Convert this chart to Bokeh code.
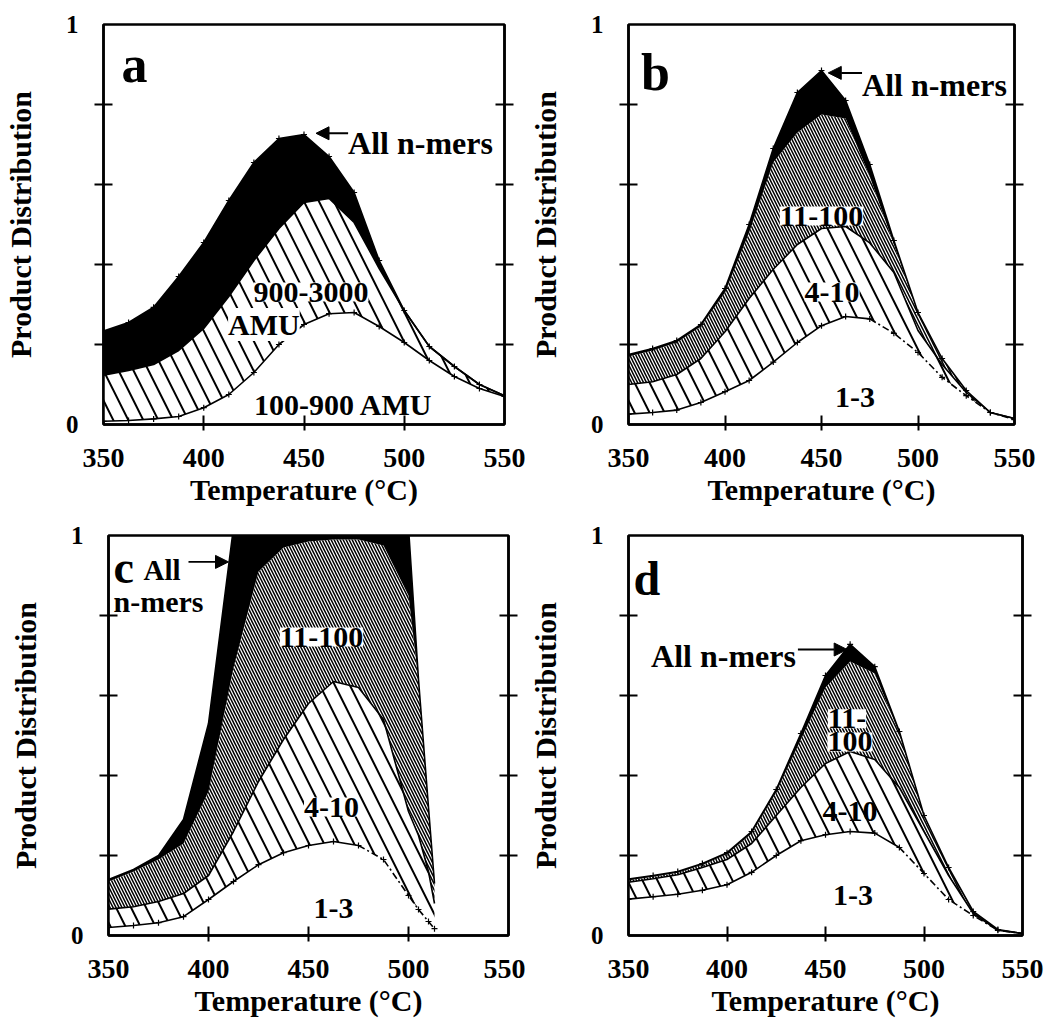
from bokeh.plotting import figure
from bokeh.layouts import column, row
from bokeh.models import FixedTicker, LinearAxis, Label, Arrow, NormalHead, Range1d
from bokeh.embed import file_html
from bokeh.resources import INLINE

# ---------------- data ----------------
temps = [350, 362.5, 375, 387.5, 400, 412.5, 425, 437.5, 450, 462.5, 475, 487.5, 500, 512.5, 525, 537.5, 550]

# panel a
a_all = [0.234, 0.255, 0.293, 0.37, 0.455, 0.56, 0.655, 0.715, 0.725, 0.67, 0.58, 0.41, 0.285, 0.195, 0.145, 0.10, 0.072]
a_900_3000 = [0.123, 0.135, 0.15, 0.185, 0.24, 0.32, 0.41, 0.49, 0.555, 0.565, 0.505, 0.39, 0.285, 0.195, 0.145, 0.10, 0.072]
a_100_900 = [0.008, 0.01, 0.014, 0.02, 0.042, 0.075, 0.13, 0.2, 0.25, 0.277, 0.28, 0.245, 0.205, 0.16, 0.12, 0.09, 0.07]

# panel b
b_all = [0.175, 0.19, 0.21, 0.25, 0.34, 0.5, 0.69, 0.83, 0.885, 0.81, 0.65, 0.46, 0.28, 0.165, 0.085, 0.03, 0.015]
b_11_100 = [0.17, 0.185, 0.205, 0.245, 0.33, 0.48, 0.655, 0.73, 0.775, 0.765, 0.62, 0.45, 0.28, 0.165, 0.085, 0.03, 0.015]
b_4_10 = [0.1, 0.107, 0.125, 0.165, 0.232, 0.315, 0.388, 0.45, 0.49, 0.495, 0.454, 0.38, 0.235, 0.15, 0.08, 0.03, 0.015]
b_1_3 = [0.026, 0.03, 0.036, 0.055, 0.082, 0.11, 0.156, 0.205, 0.247, 0.27, 0.264, 0.228, 0.18, 0.118, 0.072, 0.03, 0.012]

# panel c
temps_c = [350, 362.5, 375, 387.5, 400, 412.5, 425, 437.5, 450, 462.5, 475, 487.5, 500, 505, 510, 513]
c_all = [0.14, 0.165, 0.2, 0.29, 0.53, 1.02, 1.15, 1.25, 1.3, 1.3, 1.25, 1.15, 1.02, 0.64, 0.32, 0.13]
c_11_100 = [0.135, 0.16, 0.19, 0.23, 0.36, 0.67, 0.91, 0.97, 0.985, 0.99, 0.99, 0.975, 0.85, 0.64, 0.32, 0.13]
c_4_10 = [0.066, 0.072, 0.085, 0.105, 0.15, 0.26, 0.385, 0.49, 0.58, 0.635, 0.62, 0.54, 0.31, 0.25, 0.16, 0.08]
c_1_3 = [0.02, 0.025, 0.032, 0.047, 0.09, 0.135, 0.177, 0.207, 0.225, 0.235, 0.225, 0.19, 0.1, 0.065, 0.035, 0.017]

# panel d
d_all = [0.141, 0.15, 0.16, 0.18, 0.207, 0.26, 0.365, 0.505, 0.65, 0.728, 0.672, 0.51, 0.3, 0.17, 0.06, 0.015, 0.005]
d_11_100 = [0.138, 0.147, 0.157, 0.177, 0.203, 0.255, 0.358, 0.49, 0.62, 0.685, 0.655, 0.505, 0.3, 0.17, 0.06, 0.015, 0.005]
d_4_10 = [0.133, 0.142, 0.152, 0.17, 0.19, 0.23, 0.3, 0.37, 0.43, 0.46, 0.44, 0.37, 0.26, 0.15, 0.055, 0.013, 0.005]
d_1_3 = [0.091, 0.097, 0.103, 0.113, 0.127, 0.158, 0.2, 0.237, 0.252, 0.26, 0.256, 0.22, 0.155, 0.09, 0.05, 0.013, 0.005]

x_tick_labels = [350, 400, 450, 500, 550]
y_tick_labels = [0, 1]
y_minor = [0.2, 0.4, 0.6, 0.8]
x_minor = [400, 450, 500]

FONT = "Liberation Serif"


def make_panel(width, height, left, right, top, bottom):
    p = figure(width=width, height=height, x_range=Range1d(350, 550), y_range=Range1d(0, 1),
               output_backend="svg", toolbar_location=None,
               min_border_left=left, min_border_right=right,
               min_border_top=top, min_border_bottom=bottom)
    p.grid.visible = False
    p.outline_line_color = "black"
    p.outline_line_width = 2.5
    p.background_fill_color = "white"
    p.border_fill_color = "white"

    xa = p.xaxis[0]
    xa.ticker = FixedTicker(ticks=x_tick_labels, minor_ticks=x_minor)
    xa.major_tick_in = 0
    xa.major_tick_out = 0
    xa.minor_tick_in = 9
    xa.minor_tick_out = 6
    xa.minor_tick_line_width = 2
    xa.axis_line_width = 2.5
    xa.major_label_text_font = FONT
    xa.major_label_text_font_style = "bold"
    xa.major_label_text_font_size = "28px"
    xa.major_label_text_color = "black"
    xa.major_label_standoff = 18
    xa.axis_label = "Temperature (°C)"
    xa.axis_label_text_font = FONT
    xa.axis_label_text_font_style = "bold"
    xa.axis_label_text_font_size = "30px"
    xa.axis_label_text_color = "black"
    xa.axis_label_standoff = 3

    ya = p.yaxis[0]
    ya.ticker = FixedTicker(ticks=y_tick_labels, minor_ticks=y_minor)
    ya.major_tick_in = 0
    ya.major_tick_out = 0
    ya.minor_tick_in = 9
    ya.minor_tick_out = 9
    ya.minor_tick_line_width = 2
    ya.axis_line_width = 2.5
    ya.major_label_text_font = FONT
    ya.major_label_text_font_style = "bold"
    ya.major_label_text_font_size = "25px"
    ya.major_label_text_color = "black"
    ya.major_label_standoff = 16
    ya.axis_label = "Product Distribution"
    ya.axis_label_text_font = FONT
    ya.axis_label_text_font_style = "bold"
    ya.axis_label_text_font_size = "30px"
    ya.axis_label_text_color = "black"
    ya.axis_label_standoff = 26

    ra = LinearAxis(ticker=FixedTicker(ticks=[], minor_ticks=y_minor))
    ra.major_tick_in = 0
    ra.major_tick_out = 0
    ra.minor_tick_in = 9
    ra.minor_tick_out = 9
    ra.minor_tick_line_width = 2
    ra.axis_line_width = 2.5
    ra.major_label_text_font_size = "0px"
    p.add_layout(ra, "right")
    return p


def coarse(p, x, lo, hi):
    p.varea(x=x, y1=lo, y2=hi, fill_color="white", hatch_pattern="\\",
            hatch_scale=30, hatch_weight=2, hatch_color="black")


def fine(p, x, lo, hi):
    p.varea(x=x, y1=lo, y2=hi, fill_color="white", hatch_pattern="\\",
            hatch_scale=6, hatch_weight=1.5, hatch_color="black")


def solid(p, x, lo, hi):
    p.varea(x=x, y1=lo, y2=hi, fill_color="black")


def curve(p, x, y, markers=True, dash_after=None):
    if dash_after is None:
        p.line(x, y, line_color="black", line_width=1.6)
    else:
        xs1 = [t for t in x if t <= dash_after]
        ys1 = y[:len(xs1)]
        xs2 = x[len(xs1) - 1:]
        ys2 = y[len(xs1) - 1:]
        p.line(xs1, ys1, line_color="black", line_width=1.6)
        p.line(xs2, ys2, line_color="black", line_width=1.6, line_dash="7 3 2 3")
    if markers:
        p.scatter(x, y, marker="cross", size=6, line_color="black", line_width=1.2)


def label(p, x, y, text, size="30px", align="center", bg=False):
    kw = dict(x=x, y=y, text=text, text_font=FONT, text_font_style="bold",
              text_font_size=size, text_align=align, text_baseline="alphabetic",
              text_color="black")
    if bg:
        kw.update(background_fill_color="white", background_fill_alpha=1.0)
    p.add_layout(Label(**kw))


def arrow(p, x0, y0, x1, y1, w=2):
    p.add_layout(Arrow(end=NormalHead(size=13, fill_color="black", line_color="black"),
                       x_start=x0, y_start=y0, x_end=x1, y_end=y1,
                       line_width=w, line_color="black"))


# ---------------- panel a ----------------
pa = make_panel(525, 512, 102, 21, 24, 80)
coarse(pa, temps, a_100_900, a_900_3000)
solid(pa, temps, a_900_3000, a_all)
curve(pa, temps, a_all)
curve(pa, temps, a_900_3000, markers=False)
curve(pa, temps, a_100_900)
label(pa, 359, 0.9, "a", size="52px", align="left")
label(pa, 472, 0.703, "All n-mers", size="32px", align="left")
arrow(pa, 472, 0.728, 456, 0.728)
label(pa, 453.5, 0.331, "900-3000", bg=True)
label(pa, 430, 0.25, "AMU", bg=True)
label(pa, 471.6, 0.049, "100-900  AMU")

# ---------------- panel b ----------------
pb = make_panel(530, 512, 87, 41, 20, 88)
coarse(pb, temps, b_1_3, b_4_10)
fine(pb, temps, b_4_10, b_11_100)
solid(pb, temps, b_11_100, b_all)
curve(pb, temps, b_all)
curve(pb, temps, b_4_10, markers=False)
curve(pb, temps, b_1_3, dash_after=475)
label(pb, 356.5, 0.881, "b", size="52px", align="left")
label(pb, 471, 0.849, "All n-mers", size="32px", align="left")
arrow(pb, 471, 0.879, 453.5, 0.879)
label(pb, 450, 0.521, "11-100", bg=True)
label(pb, 455.5, 0.331, "4-10", bg=True)
label(pb, 467.4, 0.067, "1-3")

# ---------------- panel c ----------------
pc = make_panel(525, 512, 108, 17, 23, 84)
coarse(pc, temps_c, c_1_3, c_4_10)
fine(pc, temps_c, c_4_10, c_11_100)
solid(pc, temps_c, c_11_100, c_all)
curve(pc, temps_c, c_all, markers=False)
curve(pc, temps_c, c_4_10, markers=False)
curve(pc, temps_c, c_1_3, dash_after=475)
label(pc, 352.5, 0.921, "c", size="46px", align="left")
label(pc, 367.5, 0.914, "All", size="29px", align="left")
arrow(pc, 390, 0.934, 410, 0.934, w=1.8)
label(pc, 352.5, 0.835, "n-mers", size="30px", align="left")
label(pc, 456.5, 0.746, "11-100", bg=True)
label(pc, 461.5, 0.321, "4-10", bg=True)
label(pc, 462.5, 0.067, "1-3")

# ---------------- panel d ----------------
pd_ = make_panel(530, 512, 93, 33, 20, 89)
coarse(pd_, temps, d_1_3, d_4_10)
fine(pd_, temps, d_4_10, d_11_100)
solid(pd_, temps, d_11_100, d_all)
curve(pd_, temps, d_all)
curve(pd_, temps, d_4_10, markers=False)
curve(pd_, temps, d_1_3, dash_after=487.5)
label(pd_, 352.5, 0.893, "d", size="48px", align="left")
label(pd_, 435, 0.70, "All n-mers", size="32px", align="right")
arrow(pd_, 436, 0.715, 461, 0.715)
label(pd_, 460.9, 0.542, "11-", bg=True)
label(pd_, 462.4, 0.484, "100", bg=True)
label(pd_, 462.4, 0.31, "4-10")
label(pd_, 463.9, 0.099, "1-3")

layout = column(row(pa, pb, spacing=0), row(pc, pd_, spacing=0), spacing=0)

open("out.html", "w").write(file_html(layout, INLINE))
